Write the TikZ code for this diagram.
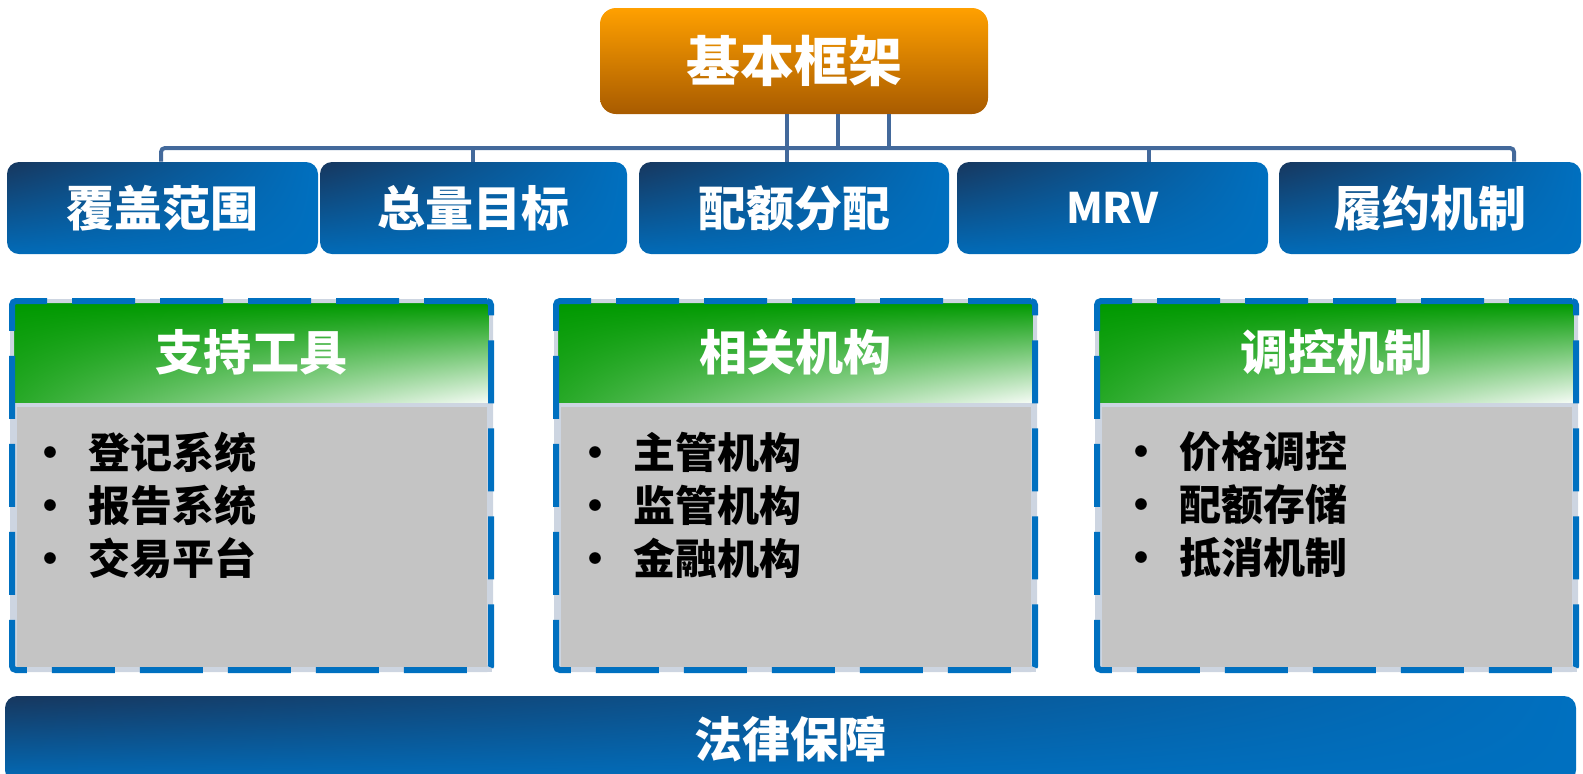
\documentclass[tikz,border=0pt]{standalone}
\usepackage{fontspec}
\usetikzlibrary{shadings}
\setmainfont{Noto Sans CJK SC}
\definecolor{orangetop}{HTML}{FFA000}
\definecolor{orangebot}{HTML}{A85B00}
\definecolor{navy}{HTML}{17375E}
\definecolor{midblue}{HTML}{0070C0}
\definecolor{linkblue}{HTML}{43699B}
\definecolor{grn}{HTML}{009900}
\definecolor{boxgray}{HTML}{C4C4C4}
\definecolor{rim}{HTML}{CDD5E1}
\begin{document}
\begin{tikzpicture}[x=0.5pt, y=-0.5pt,
  headbox/.style={rounded corners=8pt, minimum width=194pt, minimum height=53pt,
    top color=orangetop, bottom color=orangebot, text=white,
    font=\bfseries\fontsize{27}{30}\selectfont},
  bluebox/.style={rounded corners=6pt, minimum height=46pt,
    upper left=navy, upper right=midblue, lower left=midblue!92!navy, lower right=midblue,
    text=white, font=\bfseries\fontsize{24}{28}\selectfont},
  link/.style={draw=linkblue, line width=2pt},
  dashframe/.style={minimum width=239.5pt, minimum height=184.5pt, draw=midblue,
    line width=3pt, dash pattern=on 31.5pt off 12.5pt, rounded corners=2pt,
    preaction={draw=rim, solid, line width=2pt}},
  greenhead/.style={minimum width=238.5pt, minimum height=49.5pt,
    upper left=grn, upper right=grn, lower left=grn!85!white, lower right=grn!4!white,
    text=white, font=\bfseries\fontsize{24}{28}\selectfont},
  body/.style={minimum width=237.5pt, minimum height=132.5pt, fill=boxgray,
    draw=rim, line width=2.5pt},
  item/.style={anchor=west, inner sep=0pt, font=\bfseries\fontsize{21}{25}\selectfont},
]
\useasboundingbox (0,0) rectangle (1583,773);

% top
\node[headbox] (kuangjia) at (794,61) {基本框架};

% five elements
\node[bluebox, minimum width=155.5pt] (fanwei) at (162.5,208) {覆盖范围};
\node[bluebox, minimum width=153.5pt] (mubiao) at (473.5,208) {总量目标};
\node[bluebox, minimum width=155pt] (fenpei) at (794,208) {配额分配};
\node[bluebox, minimum width=155.5pt] (mrv) at (1112.5,208) {\fontsize{21}{24}\selectfont MRV};
\node[bluebox, minimum width=151pt] (lvyue) at (1430,208) {履约机制};

% bus
\coordinate (j1) at (161,148);
\coordinate (j2) at (473,148);
\coordinate (j3) at (787,148);
\coordinate (j4) at (1149,148);
\coordinate (j5) at (1514,148);
\coordinate (k2) at (838,148);
\coordinate (k3) at (889,148);
\draw[link, rounded corners=2pt] (j1 |- fanwei.north) -- (j1) -- (j5) -- (j5 |- lvyue.north);
\draw[link] (j2) -- (j2 |- mubiao.north);
\draw[link] (kuangjia.south -| j3) -- (j3 |- fenpei.north);
\draw[link] (kuangjia.south -| k2) -- (k2);
\draw[link] (kuangjia.south -| k3) -- (k3);
\draw[link] (j4) -- (j4 |- mrv.north);

% supporting panels
\node[body] (b1) at (251.5,536.5) {};
\node[greenhead] (h1) at (251.5,352.5) {支持工具};
\node[dashframe] (f1) at (251.5,485.5) {};
\node[item] (t11) at (12,452) {\makebox[38pt][c]{•}登记系统};
\node[item] (t12) at (12,505) {\makebox[38pt][c]{•}报告系统};
\node[item] (t13) at (12,558) {\makebox[38pt][c]{•}交易平台};

\node[body] (b2) at (795.5,536.5) {};
\node[greenhead] (h2) at (795.5,352.5) {相关机构};
\node[dashframe] (f2) at (795.5,485.5) {};
\node[item] (t21) at (557,452) {\makebox[38pt][c]{•}主管机构};
\node[item] (t22) at (557,505) {\makebox[38pt][c]{•}监管机构};
\node[item] (t23) at (557,558) {\makebox[38pt][c]{•}金融机构};

\node[body] (b3) at (1336.5,536.5) {};
\node[greenhead] (h3) at (1336.5,352.5) {调控机制};
\node[dashframe] (f3) at (1336.5,485.5) {};
\node[item] (t31) at (1103,452) {\makebox[38pt][c]{•}价格调控};
\node[item] (t32) at (1103,505) {\makebox[38pt][c]{•}配额存储};
\node[item] (t33) at (1103,558) {\makebox[38pt][c]{•}抵消机制};

% base
\node[bluebox, minimum width=785.5pt, minimum height=43pt] (falv) at (790.5,739) {法律保障};
\end{tikzpicture}
\end{document}
